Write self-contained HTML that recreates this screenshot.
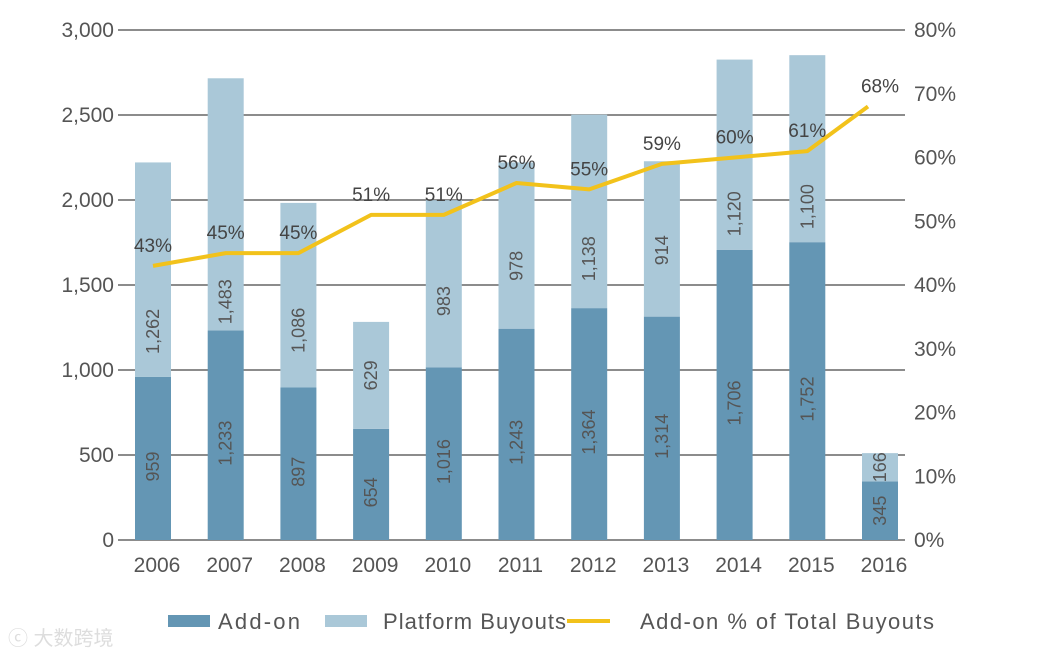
<!DOCTYPE html>
<html><head><meta charset="utf-8"><style>
body{margin:0;background:#fff;}
svg text{font-family:"Liberation Sans","Noto Sans CJK SC",sans-serif;fill:#555;}
</style></head><body>
<svg id="chart" width="1045" height="657" viewBox="0 0 1045 657" xmlns="http://www.w3.org/2000/svg">
<g id="grid"></g><g id="bars"></g><g id="line"></g><g id="axes"></g>
<g id="legend">
 <rect x="168" y="615" width="42" height="12" fill="#6496b4"/>
 <text x="218" y="629" font-size="22" textLength="82">Add-on</text>
 <rect x="325" y="615" width="42" height="12" fill="#aac8d8"/>
 <text x="383" y="629" font-size="22" textLength="183">Platform Buyouts</text>
 <line x1="567" y1="621" x2="610" y2="621" stroke="#f2c21b" stroke-width="4"/>
 <text x="640" y="629" font-size="22" textLength="294">Add-on % of Total Buyouts</text>
</g>
<text x="8" y="645" font-size="20" style="fill:#ddd">ⓒ 大数跨境</text>
</svg>
<script>
const years=["2006","2007","2008","2009","2010","2011","2012","2013","2014","2015","2016"];
const addon=[959,1233,897,654,1016,1243,1364,1314,1706,1752,345];
const platform=[1262,1483,1086,629,983,978,1138,914,1120,1100,166];
const pct=[43,45,45,51,51,56,55,59,60,61,68];
const leftTicks=[0,500,1000,1500,2000,2500,3000];
const rightTicks=[0,10,20,30,40,50,60,70,80];
const NS="http://www.w3.org/2000/svg";
const y0=540,plotH=510;
const yL=v=>y0-v/3000*plotH;
const yR=v=>y0-v/80*plotH;
const xC=i=>153+i*72.7;
const bw=36;
function mk(tag,attrs,parent,txt){const e=document.createElementNS(NS,tag);for(const k in attrs)e.setAttribute(k,attrs[k]);if(txt!==undefined)e.textContent=txt;document.getElementById(parent).appendChild(e);return e;}
const fmt=v=>v.toLocaleString('en-US');
leftTicks.forEach(t=>{
 const g=mk('line',{x1:118,x2:905,y1:yL(t),y2:yL(t),stroke:'#666','stroke-width':1.5},'grid');
 
 
 const l=mk('text',{x:114,y:yL(t)+7,'font-size':21,'text-anchor':'end'},'axes',fmt(t));
 
 
});
rightTicks.forEach(t=>{
 const l=mk('text',{x:914,y:yR(t)+7,'font-size':21},'axes',t+'%');
 
 
});
years.forEach((yr,i)=>{
 const x=xC(i);
 const a=mk('rect',{x:x-bw/2,y:yL(addon[i]),width:bw,height:y0-yL(addon[i]),fill:'#6496b4'},'bars');
 
 
 const p=mk('rect',{x:x-bw/2,y:yL(addon[i]+platform[i]),width:bw,height:yL(addon[i])-yL(addon[i]+platform[i]),fill:'#aac8d8'},'bars');
 
 
 const small=i===years.length-1;
 const ya=small?(yL(addon[i])+y0)/2:(yL(addon[i])+y0)/2+8;
 const top=small?yL(addon[i]+platform[i]):Math.max(yL(addon[i]+platform[i]),yR(pct[i])+20);
 const yp=(yL(addon[i])+top)/2;
 const la=mk('text',{x:0,y:0,'font-size':18,'text-anchor':'middle',transform:`translate(${x+6},${ya}) rotate(-90)`},'bars',fmt(addon[i]));
 
 
 const lp=mk('text',{x:0,y:0,'font-size':18,'text-anchor':'middle',transform:`translate(${x+6},${yp}) rotate(-90)`},'bars',fmt(platform[i]));
 
 
 const xl=mk('text',{x:x+4,y:572,'font-size':21,'text-anchor':'middle'},'axes',yr);
 
 
});
const lx=i=>i===years.length-1?xC(i)-12:xC(i);
let d=pct.map((v,i)=>(i?'L':'M')+lx(i)+','+yR(v)).join(' ');
const pl=mk('path',{d:d,fill:'none',stroke:'#f2c21b','stroke-width':4,'stroke-linejoin':'round'},'line');


pct.forEach((v,i)=>{
 const t=mk('text',{x:lx(i)+(i===years.length-1?12:0),y:yR(v)-14,'font-size':19,'text-anchor':'middle',style:'fill:#444'},'line',v+'%');
 
 
});
</script>
</body></html>
